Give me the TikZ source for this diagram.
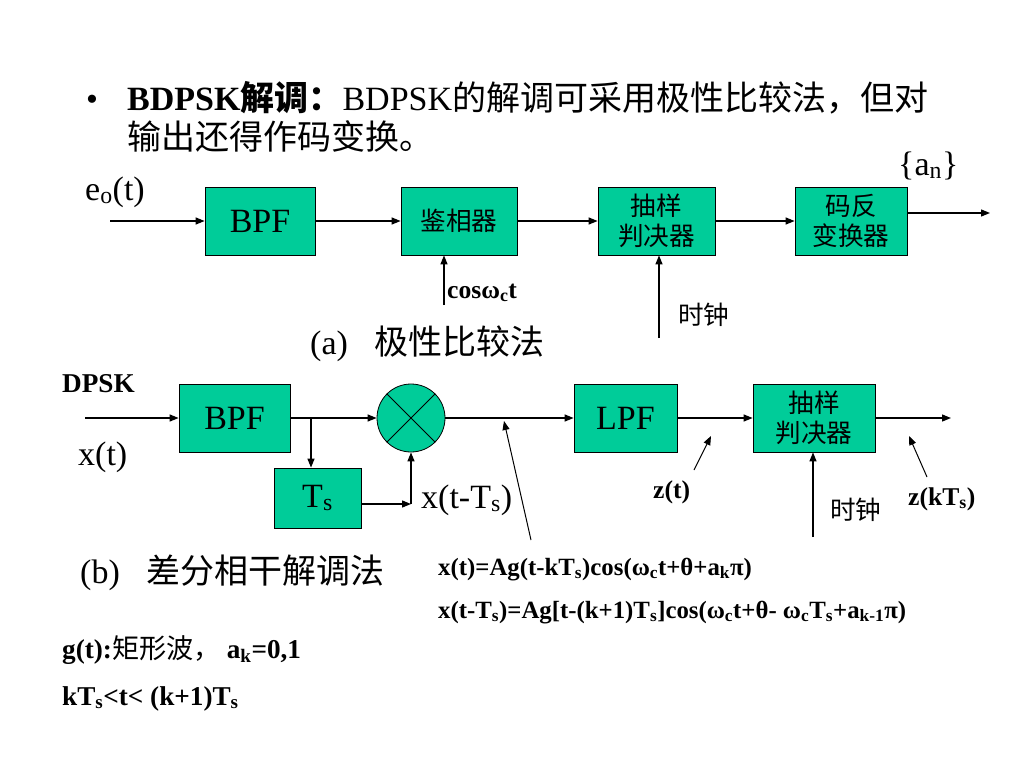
\documentclass[tikz,border=0pt]{standalone}
\usepackage{fontspec}
\setmainfont{Liberation Serif}
\newfontfamily\cjk{Noto Sans CJK SC}
\usetikzlibrary{arrows.meta}
\definecolor{boxgreen}{RGB}{0,204,153}
\newcommand\zh[1]{{\cjk #1}}
\newcommand\fbig{\fontsize{34}{40}\selectfont}
\newcommand\fmid{\fontsize{25.6}{30}\selectfont}
\newcommand\fform{\fontsize{24.8}{30}\selectfont}
\newcommand\fnote{\fontsize{27.2}{32}\selectfont}
\begin{document}
\begin{tikzpicture}[x=1pt,y=-1pt,
  blk/.style={draw=black, line width=0.8pt, fill=boxgreen, inner sep=0pt, align=center, minimum height=68pt},
  arr/.style={line width=1.3pt, -{Triangle[length=9pt,width=7pt]}},
  parr/.style={line width=1pt, -{Triangle[length=9pt,width=7pt]}},
  txt/.style={anchor=base west, inner sep=0pt}]
\useasboundingbox[fill=white] (0,0) rectangle (1024,768);

% title
\node[txt, font=\fbig] (bul) at (86,110) {•};
\node[txt, font=\fbig] (t1) at (127,110) {\textbf{BDPSK\zh{解调：}}BDPSK\zh{的解调可采用极性比较法，但对}};
\node[txt, font=\fbig] (t2) at (127,149) {\zh{输出还得作码变换。}};

% (a)
\node[blk, minimum width=110pt, font=\fbig] (bpfa) at (260,221) {BPF};
\node[blk, minimum width=116pt, font=\fmid] (jx) at (459,221) {\zh{鉴相器}};
\node[blk, minimum width=117pt, font=\fmid] (cya) at (656.5,221) {\zh{抽样}\\\zh{判决器}};
\node[blk, minimum width=112pt, font=\fmid] (mf) at (851,221) {\zh{码反}\\\zh{变换器}};
\coordinate (ina) at (110,221);
\coordinate (outa) at (990,213);
\draw[arr] (ina) -- (bpfa);
\draw[arr] (bpfa) -- (jx);
\draw[arr] (jx) -- (cya);
\draw[arr] (cya) -- (mf);
\draw[arr] (mf.east |- outa) -- (outa);
\coordinate (cosb) at (444,305);
\draw[arr] (cosb) -- (cosb |- jx.south);
\coordinate (clka) at (659,338);
\draw[arr] (clka) -- (clka |- cya.south);
\node[txt, font=\fbig] (eo) at (85,200) {e\textsubscript{o}(t)};
\node[txt, font=\fbig] (an) at (898,175) {\{a\textsubscript{n}\}};
\node[txt, font=\fmid\bfseries] (cosl) at (447,298) {cosω\textsubscript{c}t};
\node[txt, font=\fmid] (clkla) at (678,324) {\zh{时钟}};
\node[txt, font=\fbig] (capa) at (310,354) {(a)\hspace{27pt}\zh{极性比较法}};

% (b)
\node[blk, minimum width=111pt, font=\fbig] (bpfb) at (234.5,418) {BPF};
\node[circle, draw=black, line width=0.8pt, fill=boxgreen, minimum size=68pt, inner sep=0pt] (mul) at (411,418) {};
\draw[line width=0.8pt] (mul.north west) -- (mul.south east) (mul.north east) -- (mul.south west);
\node[blk, minimum width=87pt, minimum height=60pt, font=\fbig] (ts) at (317.5,498) {T\textsubscript{s}};
\node[blk, minimum width=103pt, font=\fbig] (lpf) at (625.5,418) {LPF};
\node[blk, minimum width=122pt, font=\fmid] (cyb) at (814,418) {\zh{抽样}\\\zh{判决器}};
\coordinate (inb) at (85,418);
\coordinate (outb) at (951,418);
\coordinate (br) at (311,418);
\coordinate (jn) at (411,504);
\draw[arr] (inb) -- (bpfb);
\draw[arr] (bpfb) -- (mul);
\draw[arr] (br) -- (br |- ts.north);
\draw[arr] (ts.east |- jn) -- (jn);
\draw[arr] (jn) -- (mul.south);
\draw[arr] (mul) -- (lpf);
\draw[arr] (lpf) -- (cyb);
\draw[arr] (cyb) -- (outb);
\coordinate (clkb) at (813,537);
\draw[arr] (clkb) -- (clkb |- cyb.south);
\coordinate (p1s) at (531,540); \coordinate (p1e) at (504,421);
\draw[parr] (p1s) -- (p1e);
\coordinate (p2s) at (694,470); \coordinate (p2e) at (711,436);
\draw[parr] (p2s) -- (p2e);
\coordinate (p3s) at (927,477); \coordinate (p3e) at (909,436);
\draw[parr] (p3s) -- (p3e);

\node[txt, font=\fnote\bfseries] (dpsk) at (62,392) {DPSK};
\node[txt, font=\fbig] (xt) at (78,465) {x(t)};
\node[txt, font=\fbig] (xts) at (421,508) {x(t-T\textsubscript{s})};
\node[txt, font=\fmid\bfseries] (zt) at (653,498) {z(t)};
\node[txt, font=\fmid] (clklb) at (830,519) {\zh{时钟}};
\node[txt, font=\fmid\bfseries] (zkt) at (908,505) {z(kT\textsubscript{s})};
\node[txt, font=\fbig] (capb) at (80,583) {(b)\hspace{27pt}\zh{差分相干解调法}};

\node[txt, font=\fform\bfseries] (f1) at (438,575) {x(t)=Ag(t-kT\textsubscript{s})cos(ω\textsubscript{c}t+θ+a\textsubscript{k}π)};
\node[txt, font=\fform\bfseries] (f2) at (438,618) {x(t-T\textsubscript{s})=Ag[t-(k+1)T\textsubscript{s}]cos(ω\textsubscript{c}t+θ- ω\textsubscript{c}T\textsubscript{s}+a\textsubscript{k-1}π)};
\node[txt, font=\fnote] (g1) at (62,658) {\textbf{g(t):}\zh{矩形波，}\hspace{6pt}\textbf{a\textsubscript{k}=0,1}};
\node[txt, font=\fnote\bfseries] (g2) at (62,705) {kT\textsubscript{s}<t< (k+1)T\textsubscript{s}};
\end{tikzpicture}
\end{document}
